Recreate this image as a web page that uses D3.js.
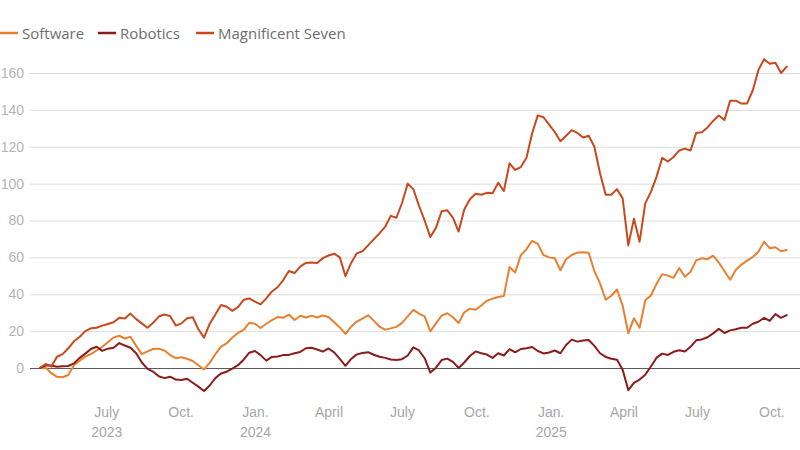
<!DOCTYPE html>
<html>
<head>
<meta charset="utf-8">
<script src="https://cdn.jsdelivr.net/npm/d3@7"></script>
<style>
  html, body { margin: 0; padding: 0; background: #ffffff; }
  svg { display: block; font-family: "Open Sans", "Noto Sans", sans-serif; }
</style>
</head>
<body>
<svg id="chart" width="800" height="450"></svg>
<script>
// ---- Data (weekly samples, % change) ----
const dates = [
"2023-04-10","2023-04-17","2023-04-24","2023-05-01","2023-05-08","2023-05-15","2023-05-22","2023-05-29",
"2023-06-05","2023-06-12","2023-06-19","2023-06-26","2023-07-03","2023-07-10","2023-07-17","2023-07-24",
"2023-07-31","2023-08-07","2023-08-14","2023-08-21","2023-08-28","2023-09-04","2023-09-11","2023-09-18",
"2023-09-25","2023-10-02","2023-10-09","2023-10-16","2023-10-23","2023-10-30","2023-11-06","2023-11-13",
"2023-11-20","2023-11-27","2023-12-04","2023-12-11","2023-12-18","2023-12-25","2024-01-01","2024-01-08",
"2024-01-15","2024-01-22","2024-01-29","2024-02-05","2024-02-12","2024-02-19","2024-02-26","2024-03-04",
"2024-03-11","2024-03-18","2024-03-25","2024-04-01","2024-04-08","2024-04-15","2024-04-22","2024-04-29",
"2024-05-06","2024-05-13","2024-05-20","2024-05-27","2024-06-03","2024-06-10","2024-06-17","2024-06-24",
"2024-07-01","2024-07-08","2024-07-15","2024-07-22","2024-07-29","2024-08-05","2024-08-12","2024-08-19",
"2024-08-26","2024-09-02","2024-09-09","2024-09-16","2024-09-23","2024-09-30","2024-10-07","2024-10-14",
"2024-10-21","2024-10-28","2024-11-04","2024-11-11","2024-11-18","2024-11-25","2024-12-02","2024-12-09",
"2024-12-16","2024-12-23","2024-12-30","2025-01-06","2025-01-13","2025-01-20","2025-01-27","2025-02-03",
"2025-02-10","2025-02-17","2025-02-24","2025-03-03","2025-03-10","2025-03-17","2025-03-24","2025-03-31",
"2025-04-07","2025-04-14","2025-04-21","2025-04-28","2025-05-05","2025-05-12","2025-05-19","2025-05-26",
"2025-06-02","2025-06-09","2025-06-16","2025-06-23","2025-06-30","2025-07-07","2025-07-14","2025-07-21",
"2025-07-28","2025-08-04","2025-08-11","2025-08-18","2025-08-25","2025-09-01","2025-09-08","2025-09-15",
"2025-09-22","2025-09-29","2025-10-06","2025-10-13","2025-10-20"
];

const software = [
0,0.2,-2.8,-4.8,-5,-3.8,1.5,4,6.2,7.5,9.5,11.5,14,16.5,17.5,16,17,12,7.5,9,
10.3,10.5,9.5,7,5.3,5.8,5,3.8,1.5,-0.8,2.8,7.5,11.6,13.4,16.5,19,20.7,24.5,24,21.7,
24,26,27.6,27.2,29,26,28.3,27.4,28.4,27.4,28.5,27.7,24.8,22,18.5,22.4,25.2,26.8,28.6,25.7,
22.5,20.8,21.5,22.3,24.5,28,31.5,29.5,28,19.9,24.2,28.4,29.7,27.5,24.4,30.2,32.2,31.6,33.9,36.5,
37.6,38.5,39,54.8,51.8,61.2,64.5,69,67.3,61.3,60,59.5,53,59,61.3,62.6,62.8,62.5,52.5,45.9,
37,39.2,42.6,33.8,18.8,27,21.8,36.7,39.3,45.8,50.9,50.1,48.9,54.2,49.5,52.2,58.4,59.5,59,60.9,
57.2,52.5,47.9,53.2,56.1,58.2,60.2,63.1,68.5,65,65.5,63.3,64
];

const robotics = [
0,1.5,1.4,0.7,1,1.1,2.5,5.5,7.8,10.3,11.5,9.3,10.5,11,13.5,12.2,11,8,3,-0.5,
-2,-4.5,-5.5,-4.7,-6.3,-6.5,-5.8,-8,-10.1,-12.5,-9.5,-5.5,-3,-2,-0.3,1.5,4.5,8.3,9.2,7,
4,6,6.2,7,7.1,8,8.7,10.7,11,10,8.9,10.6,8.5,4.9,1.2,4.9,7.4,8.1,8.6,7.2,
6.1,5.5,4.6,4.3,4.8,6.8,11.2,9.5,5.3,-2.5,0.2,4.3,5.1,3.3,0,3,6.5,9,8,7.3,
5.5,8,6.8,10.2,8.5,10.3,10.7,11.4,9.2,7.9,8.4,9.5,8,12.5,15.4,14.3,14.9,15.2,12,8,
6,5,4.5,-1,-12,-8.1,-6.3,-3.6,0.8,5.6,7.8,7.1,8.8,9.6,9,11.5,15,15.5,16.7,18.8,
21.2,19,20.4,21,21.8,21.8,24,25.1,27.2,25.5,29.2,27.2,28.7
];

const magnificentSeven = [
0,2.2,0.7,6.1,7.5,10.7,14.5,16.8,20,21.5,21.8,23,23.9,24.8,27.2,26.8,29.5,26.5,24.2,21.8,
24.5,27.9,29,28.2,23,24.2,27,27.5,21,16.5,24,29,34.2,33.2,31,33,37,37.7,36,34.5,
37.8,41.5,43.8,47.7,52.6,51.5,55,57,57.2,57,59.6,61,62,60,49.8,57,62.2,63.3,66.5,69.8,
73,76.5,82.5,81.5,89.5,100,97,88,80,71,76,85,85.5,81.5,74,86,91.5,94.5,94,95,
94.8,100.5,96,111,107.4,109,114,127.3,137,136,132,128,123,126,129,127.5,125,126,120,105.6,
94,94,97,92,66.5,81,68.5,89.3,95.5,103.8,114,112,114.4,118,119,118,127.5,127.8,130.5,134,
137,134.5,145,145,143.4,143.5,150.5,161.6,167.5,165,165.5,160,163.5
];

const seriesNames = ["Software", "Robotics", "Magnificent Seven"];
const seriesColors = ["#e8802f", "#8b1c1c", "#c9481d"];

const yTickValues = [0, 20, 40, 60, 80, 100, 120, 140, 160];
const xTickDates = ["2023-07-01","2023-10-01","2024-01-01","2024-04-01","2024-07-01","2024-10-01","2025-01-01","2025-04-01","2025-07-01","2025-10-01"];
const xTickMonths = ["July","Oct.","Jan.","April","July","Oct.","Jan.","April","July","Oct."];
const xTickYears  = ["2023","","2024","","","","2025","","",""];

// ---- Build ----
const parse = d3.utcParse("%Y-%m-%d");
const dateObjs = dates.map(parse);
const allSeries = [software, robotics, magnificentSeven];

const svg = d3.select("#chart");

const x = d3.scaleUtc()
  .domain([parse("2023-04-10"), parse("2025-10-20")])
  .range([40, 786.7]);

const y = d3.scaleLinear()
  .domain([0, 160])
  .range([368, 73]);

// Gridlines + y labels
const yAxis = d3.axisLeft(y)
  .tickValues(yTickValues)
  .tickSize(-770)
  .tickPadding(6)
  .tickFormat(d3.format("d"));

const gy = svg.append("g")
  .attr("transform", "translate(30,0)")
  .call(yAxis);
gy.select(".domain").remove();
gy.selectAll(".tick line")
  .attr("stroke", d => d === 0 ? "#5a5a5a" : "#dcdcdc")
  .attr("stroke-width", d => d === 0 ? 1.2 : 1);
gy.selectAll(".tick text")
  .attr("fill", "#b4b4b4")
  .attr("font-size", 14)
  .attr("x", -6);

// X axis labels
const xAxis = d3.axisBottom(x)
  .tickValues(xTickDates.map(parse))
  .tickSize(0)
  .tickPadding(0)
  .tickFormat((d, i) => xTickMonths[i]);

const gx = svg.append("g")
  .attr("transform", "translate(0,400)")
  .call(xAxis);
gx.select(".domain").remove();
gx.selectAll(".tick text")
  .attr("fill", "#a6a6a6")
  .attr("font-size", 14)
  .attr("dy", "0.9em")
  .attr("y", 4);
gx.selectAll(".tick").append("text")
  .attr("fill", "#a6a6a6")
  .attr("font-size", 14)
  .attr("text-anchor", "middle")
  .attr("y", 37)
  .text((d, i) => xTickYears[i]);

// Lines
const line = d3.line()
  .x((d, i) => x(dateObjs[i]))
  .y(d => y(d));

svg.append("g")
  .selectAll("path")
  .data(allSeries)
  .join("path")
  .attr("fill", "none")
  .attr("stroke", (d, i) => seriesColors[i])
  .attr("stroke-width", 2)
  .attr("stroke-linejoin", "round")
  .attr("stroke-linecap", "round")
  .attr("d", line);

// Legend
const legendX = [0, 98, 196];
const lg = svg.append("g").attr("transform", "translate(0,33)");
const items = lg.selectAll("g")
  .data(seriesNames)
  .join("g")
  .attr("transform", (d, i) => `translate(${legendX[i]},0)`);
items.append("line")
  .attr("x1", 0).attr("x2", 18)
  .attr("y1", 0).attr("y2", 0)
  .attr("stroke", (d, i) => seriesColors[i])
  .attr("stroke-width", 2.5);
items.append("text")
  .attr("x", 22)
  .attr("y", 5.5)
  .attr("fill", "#6e6e6e")
  .attr("font-size", 15)
  .text(d => d);
</script>
</body>
</html>
